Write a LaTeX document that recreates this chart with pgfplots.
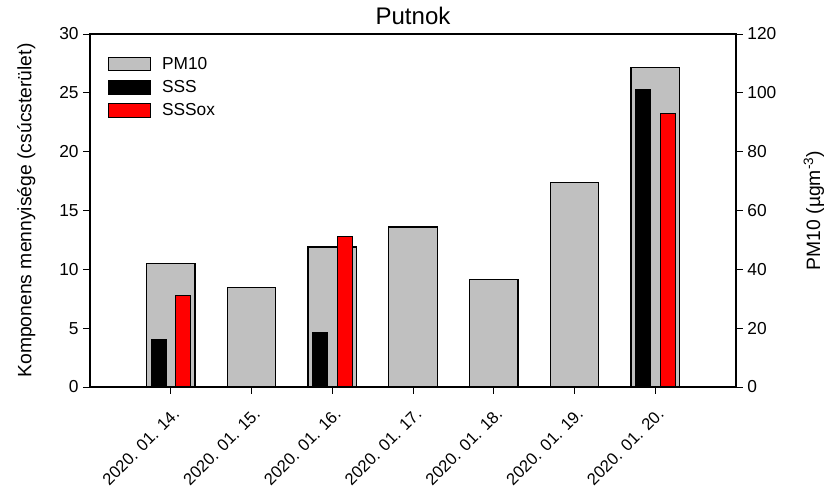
\documentclass[border=0pt]{standalone}
\usepackage{fontspec}
\setmainfont{Liberation Sans}
\usepackage{pgfplots}
\pgfplotsset{compat=1.18}
\definecolor{pmgray}{RGB}{192,192,192}
\begin{document}
\begin{tikzpicture}
\pgfplotsset{
  common/.style={
    scale only axis, width=484.5pt, height=264.75pt,
    xmin=-1, xmax=7,
    font=\fontsize{13}{15}\selectfont,
    tick align=outside, major tick length=5pt,
    /pgf/number format/assume math mode=true,
    tick style={black, line width=0.6pt},
    axis line style={line width=0.8pt},
  },
}
% PM10 on the right axis
\begin{axis}[common,
  ymin=0, ymax=120, ytick={0,20,...,120},
  axis x line=none, axis y line*=right,
  ylabel={PM10 (µgm\textsuperscript{-3})},
  every axis y label/.style={at={(rel axis cs:1,0.5)}, rotate=90, anchor=base, yshift=-63pt,
    font=\fontsize{14.5}{16}\selectfont},
]
\addplot[ybar, bar width=0.6, bar shift=0pt, fill=pmgray, draw=black, line width=0.8pt]
  coordinates {(0,42.0) (1,33.8) (2,47.6) (3,54.4) (4,36.6) (5,69.4) (6,108.6)};
\end{axis}
% Components on the left axis
\begin{axis}[common,
  ymin=0, ymax=30, ytick={0,5,...,30},
  ytick pos=left, xtick pos=bottom,
  xtick={0,...,6},
  xticklabels={2020. 01. 14., 2020. 01. 15., 2020. 01. 16., 2020. 01. 17., 2020. 01. 18., 2020. 01. 19., 2020. 01. 20.},
  x tick label style={yshift=-5pt, xshift=1pt, rotate=45, anchor=north east, font=\fontsize{12.5}{14}\selectfont},
  ylabel={Komponens mennyisége (csúcsterület)},
  every axis y label/.style={at={(rel axis cs:0,0.5)}, rotate=90, anchor=base, yshift=44pt,
    font=\fontsize{14.5}{16}\selectfont},
  title={Putnok},
  title style={at={(rel axis cs:0.5,1)}, anchor=base, yshift=0.8pt, font=\fontsize{18}{20}\selectfont},
  legend image code/.code={\draw[#1, line width=0.8pt] (0pt,-5.2pt) rectangle (32pt,5.2pt);},
  legend style={at={(rel axis cs:0,1)}, anchor=north west, xshift=10pt, yshift=-13pt,
    draw=none, fill=none, row sep=3pt, font=\fontsize{13}{15}\selectfont,
    /tikz/every odd column/.append style={column sep=6pt}},
  legend cell align=left,
]
\addlegendimage{fill=pmgray, draw=black}
\addlegendentry{PM10}
\addplot[ybar, bar width=0.185, bar shift=-0.15, fill=black, draw=black, line width=0.8pt]
  coordinates {(0,4.0) (2,4.6) (6,25.3)};
\addlegendentry{SSS}
\addplot[ybar, bar width=0.185, bar shift=0.155, fill=red, draw=black, line width=0.8pt]
  coordinates {(0,7.8) (2,12.8) (6,23.25)};
\addlegendentry{SSSox}
\end{axis}
\pgfresetboundingbox
\useasboundingbox (-67.5pt,-75pt) rectangle (555.75pt,290.25pt);
\end{tikzpicture}
\end{document}
